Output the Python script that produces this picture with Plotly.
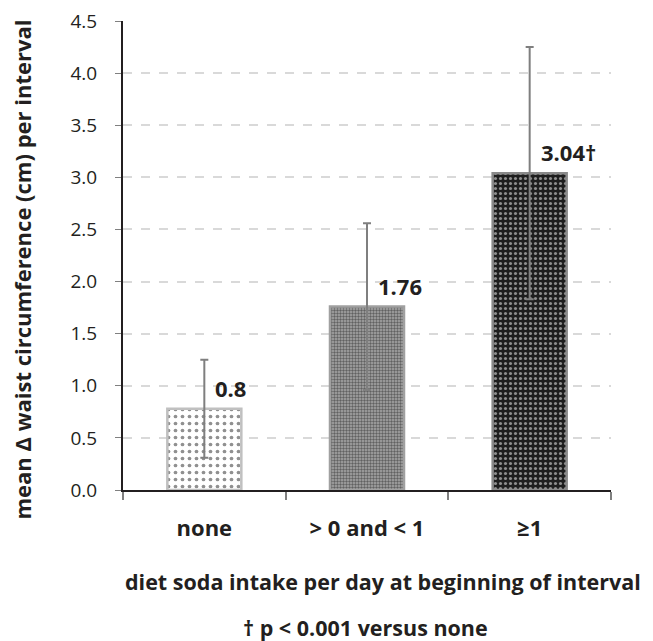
import plotly.graph_objects as go

categories = ["none", "> 0 and < 1", "\u22651"]
means = [0.78, 1.76, 3.04]
errors = [0.47, 0.80, 1.21]
value_labels = ["0.8", "1.76", "3.04\u2020"]
y_ticks = [0.0, 0.5, 1.0, 1.5, 2.0, 2.5, 3.0, 3.5, 4.0, 4.5]

FONT = "Open Sans"
TXT = "#231f20"

patterns = [
    dict(shape=".", bgcolor="white", fgcolor="#222222", size=7, solidity=0.22),
    dict(shape=".", bgcolor="#a8a8a8", fgcolor="#1a1a1a", size=3, solidity=0.5),
    dict(shape=".", bgcolor="#1e1e1e", fgcolor="white", size=5, solidity=0.3),
]
borders = ["#c0c0c0", "#a0a0a0", "#8a8a8a"]

fig = go.Figure()
for i, cat in enumerate(categories):
    fig.add_trace(go.Bar(
        x=[cat], y=[means[i]],
        width=0.455,
        marker=dict(color="white", pattern=patterns[i],
                    line=dict(color=borders[i], width=2.5)),
        error_y=dict(type="data", array=[errors[i]], color="#7f7f7f",
                     thickness=2, width=4),
        showlegend=False,
        hoverinfo="skip",
    ))

for i, cat in enumerate(categories):
    fig.add_annotation(x=cat, y=means[i], text="<b>%s</b>" % value_labels[i],
                       xref="x", yref="y", xanchor="left", yanchor="middle",
                       xshift=9, yshift=21, showarrow=False,
                       font=dict(family=FONT, size=22, color=TXT))

fig.add_annotation(x=0, y=0.47, xref="paper", yref="paper", xshift=-101,
                   text="<b>mean \u0394 waist circumference (cm) per interval</b>",
                   textangle=-90, showarrow=False, xanchor="center", yanchor="middle",
                   font=dict(family=FONT, size=22, color=TXT))
fig.add_annotation(x=0.533, y=0, xref="paper", yref="paper", yshift=-91,
                   text="<b>diet soda intake per day at beginning of interval</b>",
                   showarrow=False, xanchor="center", yanchor="middle",
                   font=dict(family=FONT, size=21.5, color=TXT))
fig.add_annotation(x=0.496, y=0, xref="paper", yref="paper", yshift=-137,
                   text="<b>\u2020 p < 0.001 versus none</b>",
                   showarrow=False, xanchor="center", yanchor="middle",
                   font=dict(family=FONT, size=21.5, color=TXT))

fig.update_layout(
    width=645, height=633,
    margin=dict(l=115, r=42, t=13, b=151),
    plot_bgcolor="white", paper_bgcolor="white",
    bargap=0.5,
    xaxis=dict(range=[-0.5, 2.5], showline=True, linecolor="#231f20", linewidth=2,
               ticks="outside", tickson="boundaries", ticklen=8, tickcolor="#808080",
               tickwidth=1.5, ticklabelstandoff=18, automargin=False,
               tickfont=dict(family=FONT, size=22, color=TXT),
               showgrid=False, tickprefix="<b>", ticksuffix="</b>"),
    yaxis=dict(range=[0, 4.5], tickvals=y_ticks, tickformat=".1f",
               showline=True, linecolor="#231f20", linewidth=2,
               ticks="outside", ticklen=6, tickcolor="#808080", tickwidth=1,
               ticklabelstandoff=14, ticklabeloverflow="allow", automargin=False,
               tickfont=dict(family=FONT, size=19, color=TXT),
               tickprefix="<b>", ticksuffix="</b>",
               showgrid=True, gridcolor="#d9d9d9", griddash="dash", gridwidth=1.5,
               zeroline=False),
)

fig.write_html("out.html")
